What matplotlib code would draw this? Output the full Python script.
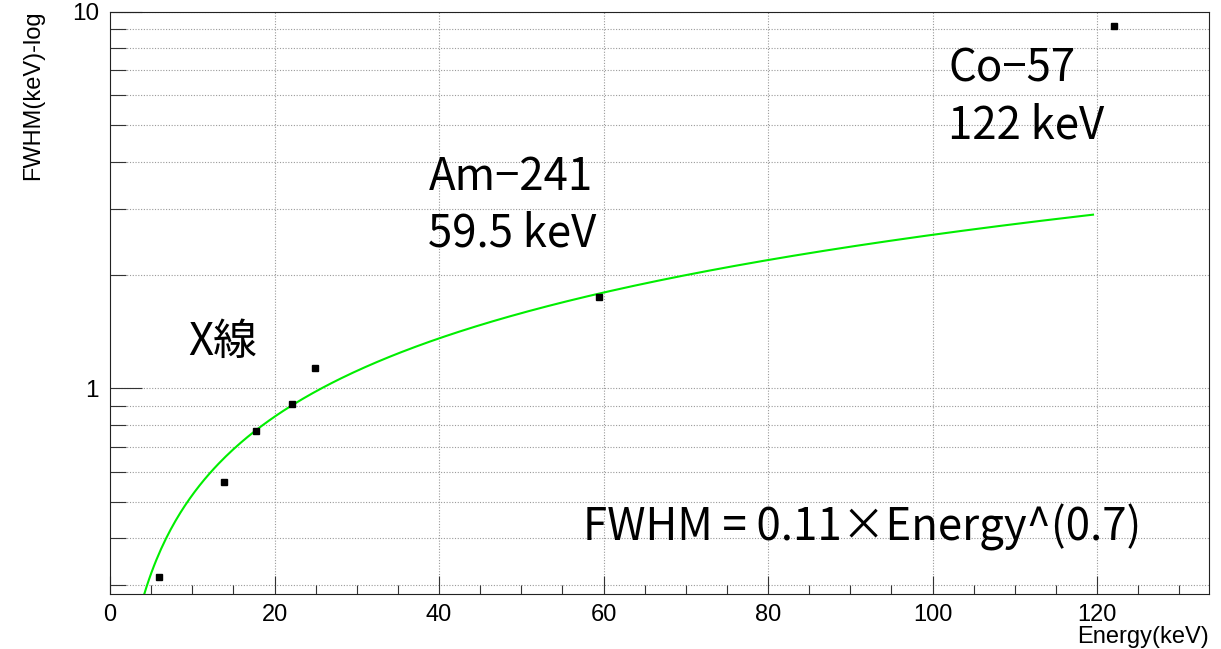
import numpy as np
import matplotlib
matplotlib.use("Agg")
import matplotlib.pyplot as plt
from matplotlib.ticker import FixedLocator, NullFormatter, FixedFormatter

# Measured peak widths
energy = [5.9, 13.9, 17.7, 22.1, 24.9, 59.5, 122.1]
fwhm = [0.315, 0.565, 0.770, 0.906, 1.134, 1.748, 9.18]

# Power-law fit  FWHM = a * E^b
fit_a = 0.1058
fit_b = 0.6917
fit_range = [3.0, 119.5]

x_range = [0, 133.6]
y_range = [0.284, 10]
x_major = [0, 20, 40, 60, 80, 100, 120]
x_minor = [v for v in range(0, 135, 5)]
y_major = [1, 10]
y_major_labels = ["1", "10"]
y_minor = [0.3, 0.4, 0.5, 0.6, 0.7, 0.8, 0.9, 2, 3, 4, 5, 6, 7, 8, 9]

cjk = ["Noto Sans CJK JP", "DejaVu Sans"]
latin = ["Liberation Sans", "DejaVu Sans"]

fig = plt.figure(figsize=(12.21, 6.49), dpi=100)
ax = fig.add_axes([110 / 1221, 1 - 594 / 649, (1209 - 110) / 1221, (594 - 12) / 649])
ax.set_yscale("log")
ax.set_xlim(*x_range)
ax.set_ylim(*y_range)

# grid
grid_kw = dict(color="#9a9a9a", lw=0.8, ls=(0, (1, 1.5)), zorder=0)
for xv in x_major[1:]:
    ax.axvline(xv, **grid_kw)
for yv in y_minor + y_major:
    ax.axhline(yv, **grid_kw)

# fit curve
xf = np.linspace(fit_range[0], fit_range[1], 400)
ax.plot(xf, fit_a * xf ** fit_b, color="#00ee00", lw=1.5, zorder=2)

# data points
ax.plot(energy, fwhm, ls="none", marker="s", ms=4.3, color="black", zorder=3)

# axes styling
for s in ax.spines.values():
    s.set_color("#222222")
    s.set_linewidth(0.8)

ax.xaxis.set_major_locator(FixedLocator(x_major))
ax.xaxis.set_minor_locator(FixedLocator(x_minor))
ax.yaxis.set_major_locator(FixedLocator(y_major))
ax.yaxis.set_major_formatter(FixedFormatter(y_major_labels))
ax.yaxis.set_minor_locator(FixedLocator(y_minor))
ax.yaxis.set_minor_formatter(NullFormatter())

ax.tick_params(axis="x", which="major", direction="in", length=13, width=0.8,
               color="#333333", pad=7, labelsize=17)
ax.tick_params(axis="x", which="minor", direction="in", length=6.5, width=0.8,
               color="#333333")
ax.tick_params(axis="y", which="major", direction="in", length=23, width=0.8,
               color="#333333", pad=8, labelsize=17.5)
ax.tick_params(axis="y", which="minor", direction="in", length=11.5, width=0.8,
               color="#333333")
for lab in ax.get_xticklabels() + ax.get_yticklabels():
    lab.set_fontfamily(latin)

ax.text(1.0, -0.055, "Energy(keV)", transform=ax.transAxes, ha="right", va="top",
        fontsize=17, family=latin)
fig.text(33 / 1221, 1 - 10 / 649, "FWHM(keV)-log", rotation=90, ha="center", va="top",
         fontsize=17, family=latin)

# annotations
txt_kw = dict(fontsize=31.5, family=cjk, va="baseline", ha="left", zorder=4)
ax.text(101.9, 6.52, "Co\u221257", **txt_kw)
ax.text(101.9, 4.62, "122 keV", **txt_kw)
ax.text(38.7, 3.365, "Am\u2212241", **txt_kw)
ax.text(38.7, 2.388, "59.5 keV", **txt_kw)
ax.text(9.5, 1.226, "X線", **txt_kw)
ax.text(57.5, 0.395, "FWHM = 0.11\u00d7Energy^(0.7)", **txt_kw)

fig.savefig("out.png", dpi=100)
